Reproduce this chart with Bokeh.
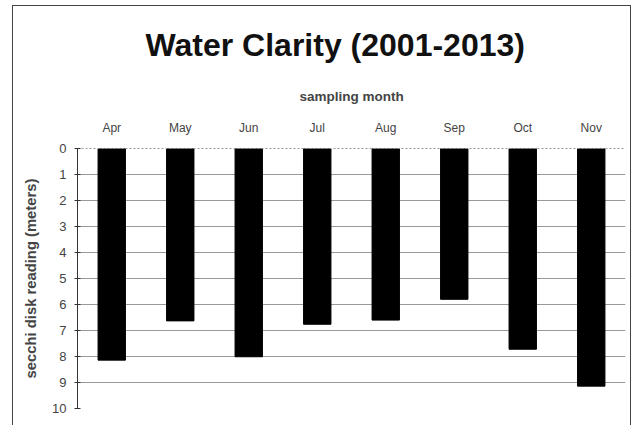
from bokeh.plotting import figure
from bokeh.models import Range1d, FactorRange, ColumnDataSource, Title, FixedTicker, InlineStyleSheet
from bokeh.embed import file_html
from bokeh.resources import INLINE

months = ["Apr", "May", "Jun", "Jul", "Aug", "Sep", "Oct", "Nov"]
secchi = [8.14, 6.63, 8.01, 6.76, 6.60, 5.80, 7.72, 9.14]
y_ticks = list(range(0, 11))

src = ColumnDataSource(dict(month=months, depth=secchi))

p = figure(width=636, height=425, x_range=FactorRange(*months), y_range=Range1d(10, 0),
           output_backend="svg", toolbar_location=None, x_axis_location="above",
           min_border_left=77, min_border_right=11, min_border_top=148, min_border_bottom=17)

# thin outer frame around the whole chart, as in the scanned original
p.stylesheets = [InlineStyleSheet(css="""
:host::after {
  content: ""; position: absolute; left: 12px; top: 5px; width: 619px; height: 600px;
  border: 1.5px solid #444; pointer-events: none; box-sizing: border-box;
}
""")]

p.title = None
t = Title(text="Water Clarity (2001-2013)", align="left", text_font="Liberation Sans",
          text_font_size="32px", text_font_style="bold", text_color="#111",
          vertical_align="top", standoff=42, offset=68)
p.add_layout(t, "above")

p.vbar(x="month", top="depth", bottom=0, width=0.4, color="black", source=src)

p.outline_line_color = None
p.xgrid.grid_line_color = None
p.ygrid.grid_line_color = "#999999"
p.ygrid.ticker = FixedTicker(ticks=y_ticks)

xa = p.xaxis[0]
xa.axis_label = "sampling month"
xa.axis_label_text_font = "Liberation Sans"
xa.axis_label_text_font_style = "bold"
xa.axis_label_text_font_size = "13.5px"
xa.axis_label_standoff = 14
xa.major_label_text_font = "Liberation Sans"
xa.major_label_text_font_size = "12px"
xa.major_label_standoff = 8
xa.major_tick_line_color = None
xa.axis_line_color = "#999999"
xa.axis_line_dash = "2 2"

ya = p.yaxis[0]
ya.ticker = FixedTicker(ticks=y_ticks)
ya.axis_label = "secchi disk reading (meters)"
ya.axis_label_text_font = "Liberation Sans"
ya.axis_label_text_font_style = "bold"
ya.axis_label_text_font_size = "14.8px"
ya.axis_label_standoff = 10
ya.major_label_text_font = "Liberation Sans"
ya.major_label_text_font_size = "13px"
ya.major_label_standoff = 8
ya.axis_line_color = "#333333"
ya.major_tick_line_color = "#333333"
ya.major_tick_in = 3
ya.major_tick_out = 3
ya.minor_tick_line_color = None

open("out.html", "w").write(file_html(p, INLINE))
